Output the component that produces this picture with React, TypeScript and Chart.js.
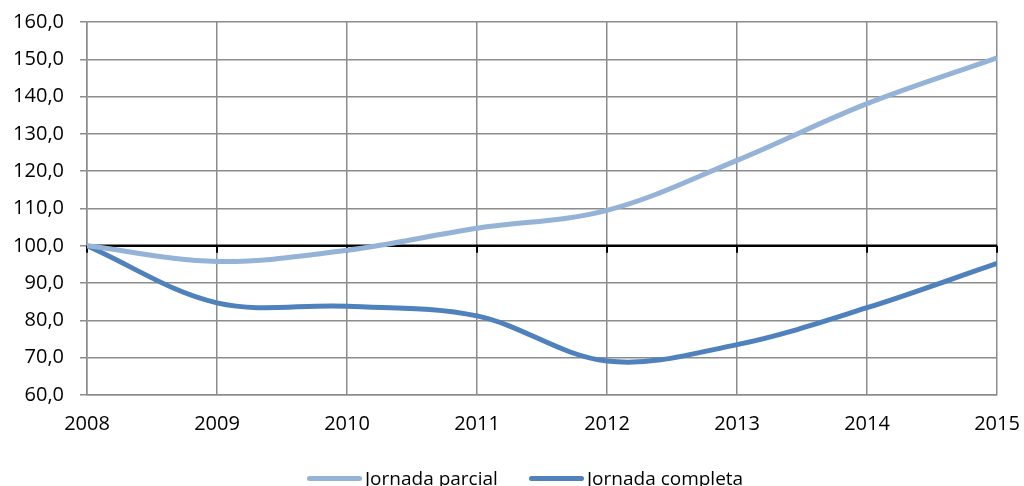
import React, { useEffect, useRef } from "react";
import { Chart, registerables } from "chart.js";

Chart.register(...registerables);

const years = [2008, 2009, 2010, 2011, 2012, 2013, 2014, 2015];
const parcial = [100, 95.8, 98.8, 104.7, 109.5, 122.9, 138.1, 150.4];
const completa = [100, 84.7, 83.8, 81.2, 69.1, 73.5, 83.4, 95.3];
const seriesNames = ["Jornada parcial", "Jornada completa"];
const seriesColors = ["#95B3D7", "#4F81BD"];
const baseValue = 100;

const FONT = "'Open Sans', 'DejaVu Sans', sans-serif";

const baseLinePlugin = {
  id: "baseLine",
  beforeDatasetsDraw(chart: any) {
    const { ctx, chartArea, scales } = chart;
    const y = scales.y.getPixelForValue(baseValue);
    ctx.save();
    ctx.strokeStyle = "#000";
    ctx.lineWidth = 2.5;
    ctx.beginPath();
    ctx.moveTo(chartArea.left, y);
    ctx.lineTo(chartArea.right, y);
    ctx.stroke();
    ctx.lineWidth = 2;
    years.forEach((yr) => {
      const x = Math.round(scales.x.getPixelForValue(yr));
      ctx.beginPath();
      ctx.moveTo(x, y);
      ctx.lineTo(x, y + 7);
      ctx.stroke();
    });
    ctx.restore();
  },
};

const zeroPad = (s: any) => {
  s.paddingLeft = 0;
  s.paddingRight = 0;
  s.paddingTop = 0;
  s.paddingBottom = 0;
};

export default function App() {
  const ref = useRef<HTMLCanvasElement>(null);

  useEffect(() => {
    document.body.style.margin = "0";
    const canvas = ref.current!;
    const chart = new Chart(canvas, {
      type: "line",
      data: {
        datasets: [
          {
            label: seriesNames[0],
            data: years.map((x, i) => ({ x, y: parcial[i] })),
            borderColor: seriesColors[0],
            backgroundColor: seriesColors[0],
            borderWidth: 5,
            pointRadius: 0,
            tension: 0.35,
          },
          {
            label: seriesNames[1],
            data: years.map((x, i) => ({ x, y: completa[i] })),
            borderColor: seriesColors[1],
            backgroundColor: seriesColors[1],
            borderWidth: 5,
            pointRadius: 0,
            tension: 0.35,
          },
        ],
      },
      options: {
        responsive: false,
        animation: false,
        layout: { padding: { top: 22, right: 27, bottom: 0, left: 0 } },
        plugins: {
          legend: { display: false },
          tooltip: { enabled: false },
        },
        scales: {
          x: {
            type: "linear",
            min: 2008,
            max: 2015,
            ticks: {
              stepSize: 1,
              callback: (v: any) => String(v),
              color: "#000",
              font: { family: FONT, size: 20 },
              padding: 17,
              maxRotation: 0,
            },
            grid: { color: "#8c8c8c", lineWidth: 1.5, drawTicks: false },
            border: { color: "#8c8c8c", width: 1.5 },
            afterFit: (s: any) => {
              s.height = 91;
              zeroPad(s);
            },
          },
          y: {
            min: 60,
            max: 160,
            ticks: {
              stepSize: 10,
              callback: (v: any) => Number(v).toFixed(1).replace(".", ","),
              color: "#000",
              font: { family: FONT, size: 20 },
              padding: 16,
            },
            grid: { color: "#8c8c8c", lineWidth: 1.5, tickLength: 7 },
            border: { color: "#8c8c8c", width: 1.5 },
            afterFit: (s: any) => {
              s.width = 87;
              zeroPad(s);
            },
          },
        },
      },
      plugins: [baseLinePlugin],
    } as any);
    return () => chart.destroy();
  }, []);

  const legendItem = (i: number, left: number) => (
    <div
      key={i}
      style={{
        position: "absolute",
        left,
        top: 466,
        display: "flex",
        alignItems: "center",
        fontFamily: FONT,
        fontSize: 19,
        color: "#000",
        whiteSpace: "nowrap",
        lineHeight: "24px",
      }}
    >
      <span
        style={{
          display: "inline-block",
          width: 55,
          height: 5,
          borderRadius: 3,
          background: seriesColors[i],
          marginRight: 3,
        }}
      />
      <span>{seriesNames[i]}</span>
    </div>
  );

  return (
    <div style={{ position: "relative", width: 1024, height: 486, overflow: "hidden", background: "#fff" }}>
      <canvas ref={ref} width={1024} height={486} style={{ display: "block" }} />
      {legendItem(0, 307)}
      {legendItem(1, 529)}
    </div>
  );
}
